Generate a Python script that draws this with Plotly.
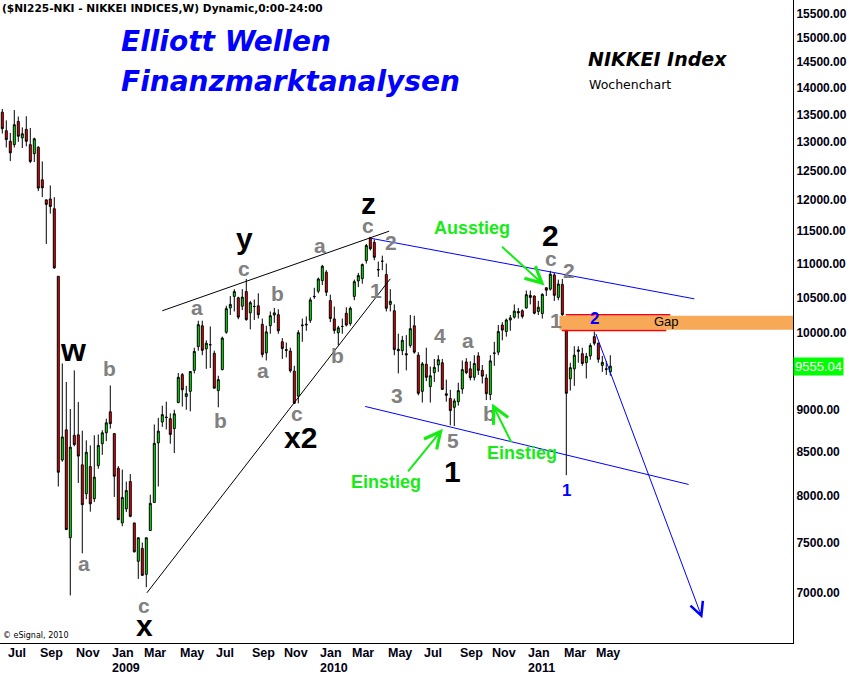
import numpy as np
import pandas as pd
import plotly.graph_objects as go

# ---------------- data (weekly candles, NIKKEI 225) ----------------
start_week = "2008-06-30"
opens = [
    13540, 13200, 13010, 12950, 13370, 13070, 13225, 12950, 12790, 12905,
    12340, 12005, 12020, 11860, 10810, 8400, 8755, 7550, 8690, 8695,
    8345, 8020, 8325, 7965, 8335, 8590, 8720, 8975, 8710, 8305,
    7705, 7855, 8155, 7705, 7310, 7440, 7180, 7625, 7925, 8600,
    8850, 8910, 8890, 8770, 9090, 9445, 9165, 9230, 9500, 9815,
    10100, 9785, 9840, 9725, 9240, 9510, 10010, 10350, 10515, 10495,
    10375, 10585, 10280, 10370, 10380, 10120, 9730, 10100, 10250, 10255,
    9880, 9775, 9755, 9490, 9170, 10100, 10110, 10175, 10510, 10590,
    10745, 10870, 10455, 10195, 10003, 10090, 10275, 10130, 10515, 10740,
    10775, 11045, 11395, 11325, 10910, 11035, 10835, 10400, 10310, 9780,
    9760, 9720, 9830, 10100, 9700, 9230, 9580, 9290, 9470, 9570,
    9600, 9200, 9140, 9030, 9100, 9260, 9610, 9520, 9410, 9690,
    9500, 9400, 9190, 9730, 9740, 10110, 10020, 10180, 10220, 10300,
    10310, 10350, 10530, 10520, 10300, 10270, 10640, 10620, 10830, 10500,
    10690, 10040, 9390, 9520, 9750, 9720, 9600, 9690, 9950, 9860,
    9565, 9520, 9480]
highs = [
    13600, 13390, 13160, 13580, 13460, 13260, 13465, 13250, 13075, 12920,
    12655, 12010, 12245, 12050, 10810, 9590, 9350, 9010, 9500, 9095,
    8745, 8630, 8570, 8690, 8700, 8750, 8890, 9305, 8710, 8330,
    8290, 8155, 8240, 7705, 7550, 7500, 7550, 8010, 8820, 8900,
    9050, 9100, 8955, 9000, 9465, 9465, 9300, 9490, 9800, 10170,
    10170, 9900, 10090, 9760, 9430, 9950, 10380, 10520, 10620, 10510,
    10620, 10770, 10450, 10470, 10560, 10200, 10100, 10300, 10350, 10330,
    9930, 9870, 9800, 9560, 10040, 10200, 10230, 10500, 10640, 10790,
    10980, 10900, 10540, 10370, 10100, 10200, 10360, 10370, 10760, 10860,
    11000, 11300, 11410, 11370, 11030, 11120, 11000, 10620, 10400, 9990,
    9960, 9970, 10250, 10240, 9740, 9610, 9800, 9550, 9650, 9700,
    9650, 9380, 9250, 9140, 9340, 9630, 9660, 9620, 9700, 9740,
    9570, 9450, 9700, 9880, 10110, 10150, 10200, 10250, 10400, 10350,
    10330, 10600, 10600, 10530, 10450, 10560, 10650, 10890, 10860, 10760,
    10770, 10045, 9600, 9820, 9820, 9800, 9730, 9860, 10020, 9870,
    9690, 9620, 9700]
lows = [
    13150, 12900, 12660, 12900, 13000, 12890, 12920, 12625, 12645, 12150,
    12050, 11300, 11780, 10920, 8100, 8380, 7630, 6975, 8560, 8140,
    7390, 7960, 7825, 7930, 8300, 8460, 8620, 8770, 7985, 7735,
    7670, 7820, 7765, 7400, 7135, 7165, 7054, 7625, 7920, 8100,
    8790, 8760, 8590, 8480, 9080, 9040, 9000, 8980, 9460, 9760,
    9700, 9520, 9530, 9270, 9030, 9500, 9990, 10250, 10300, 10190,
    10320, 10170, 10050, 10180, 10200, 9670, 9630, 9990, 10140, 9990,
    9650, 9670, 9470, 9075, 9080, 9880, 10030, 10140, 10480, 10560,
    10680, 10520, 10150, 9990, 9830, 9990, 10090, 10100, 10460, 10650,
    10700, 11000, 11200, 11050, 10800, 10900, 10300, 10300, 9700, 9460,
    9700, 9500, 9800, 9720, 9180, 9090, 9360, 9090, 9350, 9480,
    9250, 9100, 8810, 8800, 9050, 9200, 9450, 9370, 9370, 9440,
    9330, 9120, 9120, 9560, 9700, 9900, 9950, 10030, 10200, 10200,
    10200, 10340, 10400, 10260, 10250, 10200, 10520, 10600, 10450, 10460,
    10230, 8227, 9240, 9300, 9600, 9560, 9395, 9640, 9830, 9600,
    9480, 9440, 9430]
closes = [
    13237, 13040, 12805, 13310, 13100, 13145, 13010, 12655, 13055, 12200,
    12205, 11930, 11895, 10935, 8260, 8670, 7635, 8550, 8580, 8445,
    7900, 8490, 7910, 8205, 8570, 8720, 8840, 8830, 8215, 7740,
    7980, 8055, 7775, 7405, 7550, 7170, 7550, 7915, 8595, 8740,
    8940, 8905, 8700, 8950, 9410, 9250, 9200, 9485, 9750, 10115,
    9765, 9860, 9840, 9270, 9380, 9930, 10340, 10400, 10585, 10220,
    10505, 10185, 10425, 10370, 10255, 9710, 10015, 10240, 10280, 10030,
    9790, 9765, 9495, 9080, 10005, 10108, 10120, 10465, 10515, 10770,
    10960, 10575, 10200, 10035, 10072, 10090, 10110, 10345, 10730, 10820,
    10985, 11275, 11225, 11095, 10905, 11035, 10345, 10445, 9775, 9760,
    9900, 9705, 10060, 9740, 9205, 9585, 9410, 9430, 9540, 9640,
    9255, 9180, 8990, 9110, 9240, 9510, 9470, 9405, 9590, 9500,
    9425, 9200, 9625, 9725, 10020, 10040, 10180, 10210, 10305, 10280,
    10230, 10540, 10500, 10275, 10360, 10545, 10605, 10840, 10530, 10695,
    10255, 9205, 9535, 9700, 9770, 9590, 9685, 9830, 9860, 9645,
    9605, 9515, 9555.04]

y_tick_values = [7000, 7500, 8000, 8500, 9000, 9500, 10000, 10500, 11000,
                 11500, 12000, 12500, 13000, 13500, 14000, 14500, 15000, 15500]
y_tick_labels = [f"{v:.2f}" for v in y_tick_values]
month_names = {1: "Jan", 3: "Mar", 5: "May", 7: "Jul", 9: "Sep", 11: "Nov"}

# Elliott wave labels: (text, date, value, colour, size)
GRAY, BLACK, BLUE = "#808080", "#000000", "#0000ff"
wave_labels = [
    ("w", "2008-10-31", 9763, BLACK, 32),
    ("b", "2009-01-04", 9525, GRAY, 21),
    ("a", "2008-11-20", 7288, GRAY, 21),
    ("c", "2009-03-05", 6880, GRAY, 21),
    ("x", "2009-03-05", 6694, BLACK, 30),
    ("a", "2009-06-05", 10360, GRAY, 21),
    ("c", "2009-08-27", 10930, GRAY, 21),
    ("y", "2009-08-28", 11380, BLACK, 30),
    ("b", "2009-10-25", 10561, GRAY, 21),
    ("a", "2009-09-29", 9498, GRAY, 21),
    ("b", "2009-07-17", 8869, GRAY, 21),
    ("c", "2009-11-27", 8950, GRAY, 21),
    ("x2", "2009-12-03", 8664, BLACK, 30),
    ("a", "2010-01-07", 11276, GRAY, 21),
    ("b", "2010-02-06", 9696, GRAY, 21),
    ("c", "2010-04-01", 11590, GRAY, 21),
    ("z", "2010-04-01", 11945, BLACK, 30),
    ("2", "2010-05-12", 11327, GRAY, 21),
    ("1", "2010-04-15", 10600, GRAY, 21),
    ("3", "2010-05-21", 9178, GRAY, 21),
    ("4", "2010-08-05", 9966, GRAY, 21),
    ("a", "2010-09-23", 9898, GRAY, 21),
    ("5", "2010-08-27", 8628, GRAY, 21),
    ("1", "2010-08-26", 8269, BLACK, 30),
    ("b", "2010-10-30", 8950, GRAY, 21),
    ("2", "2011-02-15", 11431, BLACK, 30),
    ("c", "2011-02-15", 11081, GRAY, 21),
    ("2", "2011-03-18", 10896, GRAY, 21),
    ("1", "2011-02-24", 10173, GRAY, 21),
    ("2", "2011-05-03", 10197, BLUE, 17),
    ("1", "2011-03-15", 8056, BLUE, 17),
]

# trend / channel lines: (date0, value0, date1, value1, colour)
trend_lines = [
    ("2009-04-06", 10310, "2010-05-08", 11500, "black"),
    ("2009-03-10", 7000, "2010-05-10", 10772, "black"),
    ("2010-04-08", 11385, "2011-10-24", 10480, "#0000ff"),
    ("2010-03-27", 9041, "2011-10-14", 8123, "#0000ff"),
]
gap_start = "2011-03-02"
gap_values = [10045, 10240]
gap_line_top = ("2011-03-13", "2011-09-12", 10254)
gap_line_bot = ("2011-03-06", "2011-09-05", 10034)

# ---------------- figure ----------------
week_dates = pd.date_range(start_week, periods=len(closes), freq="7D")
x0 = pd.Timestamp(start_week) - pd.Timedelta(days=4.0)
x1 = pd.Timestamp(start_week) + pd.Timedelta(days=1383.7)
PW, PH = 793, 643

fig = go.Figure()

# gap band (runs to the right edge of the plot)
gx = [pd.Timestamp(gap_start), x1, x1, pd.Timestamp(gap_start), pd.Timestamp(gap_start)]
fig.add_trace(go.Scatter(
    x=gx,
    y=[gap_values[0], gap_values[0], gap_values[1], gap_values[1], gap_values[0]],
    fill="toself", fillcolor="#f7a957", line=dict(width=0), mode="lines",
    hoverinfo="skip", showlegend=False))
for d0, d1, v in (gap_line_top, gap_line_bot):
    fig.add_trace(go.Scatter(x=[d0, d1], y=[v, v], mode="lines",
                             line=dict(color="#ff0000", width=1.5),
                             hoverinfo="skip", showlegend=False))

for d0, v0, d1, v1, col in trend_lines:
    fig.add_trace(go.Scatter(x=[d0, d1], y=[v0, v1], mode="lines",
                             line=dict(color=col, width=1),
                             hoverinfo="skip", showlegend=False))

fig.add_trace(go.Candlestick(
    x=week_dates, open=opens, high=highs, low=lows, close=closes,
    increasing=dict(fillcolor="#00ff00", line=dict(color="black", width=1)),
    decreasing=dict(fillcolor="#ff0000", line=dict(color="black", width=1)),
    whiskerwidth=0, showlegend=False))

ann = []
LBL = "Liberation Sans"
BIG = "DejaVu Sans"


def txt(text, x, v, color, size, family=LBL, bold=True):
    return dict(x=x, y=float(np.log10(v)), xref="x", yref="y", text=text,
                showarrow=False, xanchor="center", yanchor="middle",
                font=dict(family=family, size=size, color=color,
                          weight="bold" if bold else "normal"))


def ptxt(text, px, py, color, size, family=LBL, bold=True, italic=False,
         xanchor="left", **kw):
    d = dict(x=px / PW, y=1 - py / PH, xref="paper", yref="paper", text=text,
             showarrow=False, xanchor=xanchor, yanchor="middle",
             font=dict(family=family, size=size, color=color,
                       weight="bold" if bold else "normal",
                       style="italic" if italic else "normal"))
    d.update(kw)
    return d


for t, d, v, c, s in wave_labels:
    ann.append(txt(t, d, v, c, s))

GREEN = "#14ec14"
ann.append(txt("Ausstieg", "2010-09-30", 11558, GREEN, 18))
ann.append(txt("Einstieg", "2010-05-02", 8145, GREEN, 18))
ann.append(txt("Einstieg", "2010-12-26", 8487, GREEN, 18))
ann.append(txt("Gap", "2011-09-05", 10159, "black", 13, bold=False))

# arrows (tip in data coords, tail as pixel offset)
arrows = [
    ("2011-02-04", 10674, -44, -40, GREEN, 2, 1.6),
    ("2010-08-10", 8768, -36, 44, GREEN, 2, 1.6),
    ("2010-11-04", 9078, 20, 40, GREEN, 2, 1.6),
    ("2011-11-07", 6759, -107, -286, "#0000ff", 1, 2.6),
]
for d, v, ax, ay, col, w, s in arrows:
    ann.append(dict(x=d, y=float(np.log10(v)), xref="x", yref="y", text="",
                    showarrow=True, ax=ax, ay=ay, axref="pixel", ayref="pixel",
                    arrowhead=5, arrowsize=s, arrowwidth=w, arrowcolor=col,
                    standoff=0, startstandoff=0))

# x-axis month labels (left aligned at first weekly bar of the month)
prev = None
for d in week_dates:
    if prev is not None and d.month != prev.month and d.month in month_names:
        ann.append(dict(x=d, y=1 - 653 / PH, xref="x", yref="paper",
                        text=month_names[d.month], showarrow=False,
                        xanchor="left", yanchor="middle",
                        font=dict(family=LBL, size=12.5, color="#000010", weight="bold")))
        if d.month == 1:
            ann.append(dict(x=d, y=1 - 668 / PH, xref="x", yref="paper",
                            text=str(d.year), showarrow=False,
                            xanchor="left", yanchor="middle",
                            font=dict(family=LBL, size=12.5, color="#000010", weight="bold")))
    prev = d

# titles
ann.append(ptxt("($NI225-NKI - NIKKEI INDICES,W) Dynamic,0:00-24:00", 0, 8,
                "black", 10.6, family=BIG, bold=True))
ann.append(ptxt("Elliott Wellen", 119, 41, "#0000ff", 28, family=BIG, italic=True))
ann.append(ptxt("Finanzmarktanalysen", 119, 81, "#0000ff", 28, family=BIG, italic=True))
ann.append(ptxt("NIKKEI Index", 586, 59, "black", 19, family=BIG, italic=True))
ann.append(ptxt("Wochenchart", 587, 85, "black", 12.5, family=BIG, bold=False))
ann.append(ptxt("\u00a9 eSignal, 2010", 1, 635, "black", 8, family=BIG, bold=False))

# last price box
ann.append(dict(x=1, y=float(np.log10(closes[-1])), xref="paper", yref="y",
                text=f"{closes[-1]:.2f}", showarrow=False, xanchor="left",
                yanchor="middle", bgcolor="#00ff00", borderpad=1,
                font=dict(family=LBL, size=13, color="white")))

fig.update_layout(
    width=849, height=674,
    margin=dict(l=0, r=849 - PW, t=0, b=674 - PH),
    paper_bgcolor="white", plot_bgcolor="white",
    showlegend=False,
    annotations=ann,
    xaxis=dict(type="date", range=[x0, x1], rangeslider=dict(visible=False),
               showticklabels=False, showgrid=False, zeroline=False,
               showline=True, linecolor="black", linewidth=1, ticks=""),
    yaxis=dict(type="log", side="right", range=[3.8152, 4.1985],
               tickvals=y_tick_values, ticktext=y_tick_labels,
               showgrid=False, zeroline=False, showline=True,
               linecolor="black", linewidth=1, ticks="",
               tickfont=dict(family=LBL, size=12, color="#000010", weight="bold"),
               automargin=False),
)

fig.write_html(
    "out.html",
    config={"displayModeBar": False},
    post_script="document.body.style.margin='0';document.body.style.padding='0';"
                "document.documentElement.style.overflow='hidden';")
